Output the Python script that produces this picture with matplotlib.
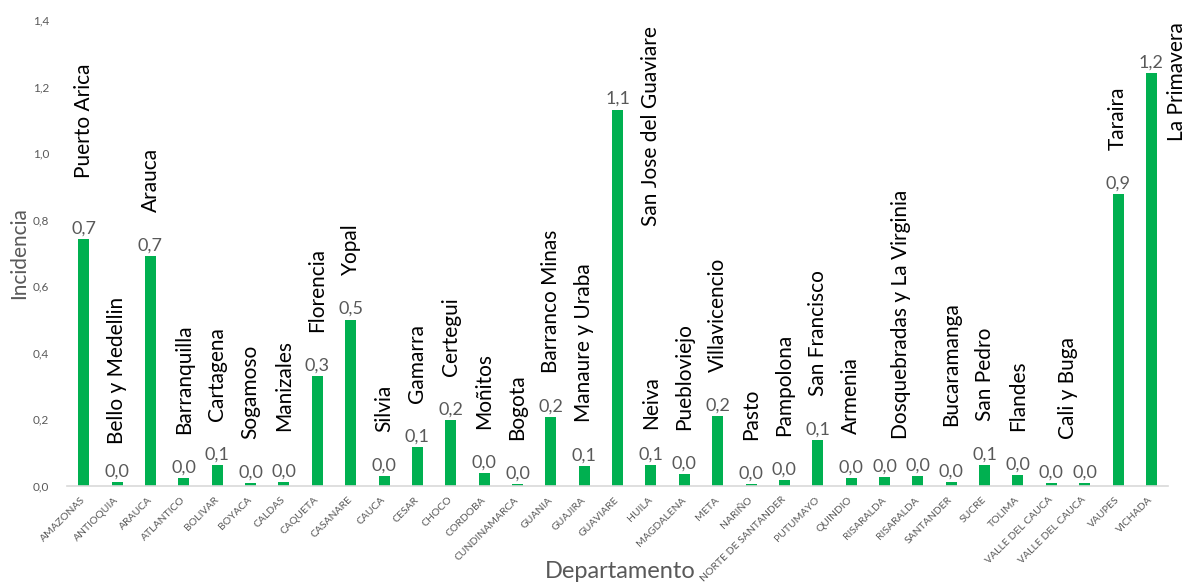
import matplotlib
matplotlib.use("Agg")
import matplotlib.pyplot as plt
import numpy as np

plt.rcParams["font.family"] = ["Lato", "DejaVu Sans"]

departamentos = [
    "AMAZONAS", "ANTIOQUIA", "ARAUCA", "ATLANTICO", "BOLIVAR", "BOYACA",
    "CALDAS", "CAQUETA", "CASANARE", "CAUCA", "CESAR", "CHOCO", "CORDOBA",
    "CUNDINAMARCA", "GUANIA", "GUAJIRA", "GUAVIARE", "HUILA", "MAGDALENA",
    "META", "NARIÑO", "NORTE DE SANTANDER", "PUTUMAYO", "QUINDIO",
    "RISARALDA", "RISARALDA", "SANTANDER", "SUCRE", "TOLIMA",
    "VALLE DEL CAUCA", "VALLE DEL CAUCA", "VAUPES", "VICHADA",
]
incidencia = [
    0.742, 0.012, 0.690, 0.024, 0.063, 0.009,
    0.012, 0.330, 0.500, 0.030, 0.117, 0.198, 0.039,
    0.006, 0.207, 0.060, 1.130, 0.063, 0.036,
    0.210, 0.006, 0.018, 0.138, 0.024,
    0.027, 0.030, 0.012, 0.063, 0.033,
    0.009, 0.009, 0.877, 1.240,
]
ciudades = [
    "Puerto Arica", "Bello y Medellin", "Arauca", "Barranquilla", "Cartagena",
    "Sogamoso", "Manizales", "Florencia", "Yopal", "Silvia", "Gamarra",
    "Certegui", "Moñitos", "Bogota", "Barranco Minas", "Manaure y Uraba",
    "San Jose del Guaviare", "Neiva", "Puebloviejo", "Villavicencio", "Pasto",
    "Pampolona", "San Francisco", "Armenia", "Dosquebradas y La Virginia",
    "Bucaramanga", "San Pedro", "Flandes", "Cali y Buga", "Taraira",
    "La Primavera",
]
# barras (departamentos) a las que pertenece cada ciudad
ciudad_barras = [
    [0], [1], [2], [3], [4], [5], [6], [7], [8], [9], [10], [11], [12], [13],
    [14], [15], [16], [17], [18], [19], [20], [21], [22], [23], [24, 25],
    [26], [27], [28], [29, 30], [31], [32],
]

VERDE = "#00B050"
GRIS = "#595959"

# separacion (pt) entre la parte alta de la barra y el nombre de la ciudad
SEP = 32
sep_ciudad = {
    "Puerto Arica": 44,
    "Manizales": 37,
    "Bucaramanga": 40,
    "Neiva": 26,
    "Bello y Medellin": 27,
    "Dosquebradas y La Virginia": 27,
}
# ciudades que no caben encima de su barra: (desplazamiento x, desplazamiento y en pt)
al_lado = {
    "San Jose del Guaviare": (1.0, -12),
    "La Primavera": (0.78, -6),
}

fig = plt.figure(figsize=(11.93, 5.83), dpi=100)
ax = fig.add_axes([0.0562, 0.1664, 0.9229, 0.7993])

x = np.arange(len(departamentos))
ax.bar(x, incidencia, width=0.33, color=VERDE, zorder=2)

for xi, v in zip(x, incidencia):
    ax.annotate(f"{v:.1f}".replace(".", ","), xy=(xi, v), xytext=(0, 2),
                textcoords="offset points", ha="center", va="bottom",
                fontsize=13, color=GRIS)

for nombre, barras in zip(ciudades, ciudad_barras):
    xc = float(np.mean([x[i] for i in barras]))
    top = max(incidencia[i] for i in barras)
    if nombre in al_lado:
        dx, dy = al_lado[nombre]
        ax.annotate(nombre, xy=(xc + dx, top), xytext=(0, dy),
                    textcoords="offset points", rotation=90,
                    ha="center", va="center", fontsize=15, color="black",
                    annotation_clip=False)
    else:
        ax.annotate(nombre, xy=(xc, top), xytext=(0, sep_ciudad.get(nombre, SEP)),
                    textcoords="offset points", rotation=90,
                    ha="center", va="bottom", fontsize=15, color="black",
                    annotation_clip=False)

ax.set_xlim(-0.5, len(departamentos) - 0.5)
ax.set_ylim(0, 1.4)
ax.set_yticks(np.arange(0, 1.41, 0.2))
ax.set_yticklabels([f"{t:.1f}".replace(".", ",") for t in np.arange(0, 1.41, 0.2)])
ax.set_xticks(x)
ax.set_xticklabels(departamentos, rotation=45, ha="right", va="center",
                   rotation_mode="anchor")

ax.tick_params(axis="y", length=0, pad=13, labelsize=8.5, labelcolor=GRIS)
ax.tick_params(axis="x", length=0, pad=9, labelsize=7.5, labelcolor=GRIS)

for lado in ("top", "right", "left"):
    ax.spines[lado].set_visible(False)
ax.spines["bottom"].set_color("#D9D9D9")
ax.spines["bottom"].set_linewidth(1.2)

ax.set_ylabel("Incidencia", fontsize=15, color=GRIS)
ax.yaxis.set_label_coords(-0.034, 0.5)
ax.set_xlabel("Departamento", fontsize=17, color=GRIS)
ax.xaxis.set_label_coords(0.502, -0.16)

fig.savefig("out.png", dpi=100)
